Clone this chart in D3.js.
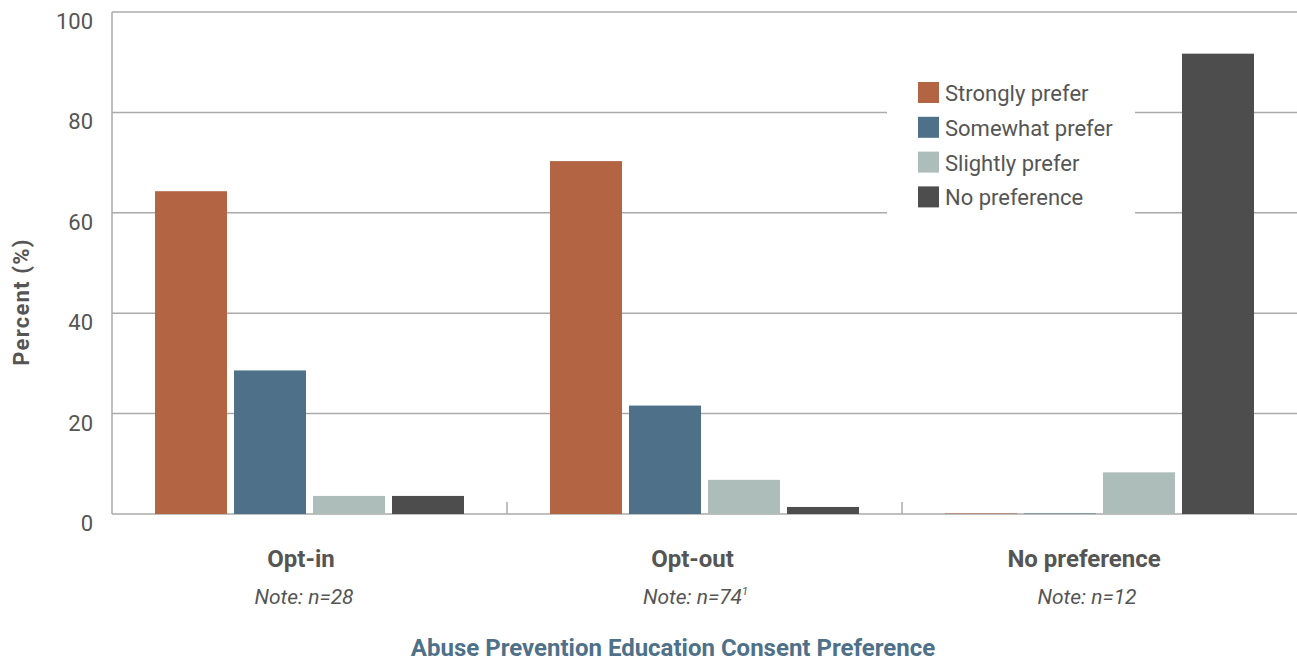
<!DOCTYPE html>
<html lang="en">
<head>
  <meta charset="utf-8">
  <title>Abuse Prevention Education Consent Preference</title>
  <script src="https://cdn.jsdelivr.net/npm/d3@7"></script>
  <style>
    body { margin: 0; background: #fff; }
    svg text { font-family: "Roboto", "Liberation Sans", sans-serif; fill: #555; }
  </style>
</head>
<body>
<script>
  const categories = ["Opt-in", "Opt-out", "No preference"];
  const notes = ["Note: n=28", "Note: n=74", "Note: n=12"];
  const noteSup = ["", "1", ""];
  const seriesNames = ["Strongly prefer", "Somewhat prefer", "Slightly prefer", "No preference"];
  const colors = ["#b36543", "#4e7189", "#adbdb9", "#4d4d4d"];
  // values per series, in category order
  const strongly = [64.3, 70.3, 0];
  const somewhat = [28.6, 21.6, 0];
  const slightly = [3.6, 6.8, 8.3];
  const noPref = [3.6, 1.4, 91.7];
  const yTicks = [0, 20, 40, 60, 80, 100];

  const series = [strongly, somewhat, slightly, noPref];

  const W = 1297, H = 664;
  const mLeft = 112, mRight = 1297, mTop = 12, mBottom = 514;

  const svg = d3.select("body").append("svg")
    .attr("width", W).attr("height", H);

  const x0 = d3.scaleBand().domain(categories).range([mLeft, mRight]);
  const x1 = d3.scaleBand().domain(seriesNames)
    .range([43, x0.bandwidth() - 43]).paddingInner(7 / 79);
  const y = d3.scaleLinear().domain([0, 100]).range([mBottom, mTop]);
  // the labels under the groups sit a little left of the group centres
  const xLabel = d3.scalePoint().domain(categories).range([301, 1084]);

  // grid lines
  svg.append("g").selectAll("line")
    .data(yTicks)
    .enter().append("line")
    .attr("x1", mLeft).attr("x2", mRight)
    .attr("y1", d => y(d)).attr("y2", d => y(d))
    .attr("stroke", "#aaa").attr("stroke-width", 1.5);

  // left axis line
  svg.append("line")
    .attr("x1", mLeft).attr("x2", mLeft)
    .attr("y1", mTop).attr("y2", mBottom)
    .attr("stroke", "#aaa").attr("stroke-width", 1.5);

  // category separators
  svg.append("g").selectAll("line")
    .data(categories.slice(1))
    .enter().append("line")
    .attr("x1", d => x0(d)).attr("x2", d => x0(d))
    .attr("y1", mBottom - 12).attr("y2", mBottom)
    .attr("stroke", "#aaa").attr("stroke-width", 1.5);

  // y tick labels (drawn slightly below their grid lines, as in the original)
  svg.append("g").selectAll("text")
    .data(yTicks)
    .enter().append("text")
    .attr("x", 93).attr("y", d => y(d) + 9)
    .attr("dy", "0.36em")
    .attr("text-anchor", "end")
    .style("font-size", "22px")
    .text(d => d);

  svg.append("text")
    .attr("transform", "translate(29,302) rotate(-90)")
    .attr("text-anchor", "middle")
    .style("font-size", "22px").style("font-weight", "bold")
    .style("letter-spacing", "1.2px")
    .text("Percent (%)");

  // bars
  const groups = svg.append("g").selectAll("g")
    .data(categories)
    .enter().append("g")
    .attr("transform", d => "translate(" + x0(d) + ",0)");

  groups.selectAll("rect")
    .data((c, ci) => seriesNames.map((s, si) => ({ s: s, v: series[si][ci], c: colors[si] })))
    .enter().append("rect")
    .attr("x", d => x1(d.s))
    .attr("width", x1.bandwidth())
    .attr("y", d => Math.min(y(d.v), mBottom - 1))
    .attr("height", d => Math.max(mBottom - y(d.v), 1))
    .attr("fill", d => d.c)
    .attr("opacity", d => d.v === 0 ? 0.5 : 1);

  // category labels
  svg.append("g").selectAll("text")
    .data(categories)
    .enter().append("text")
    .attr("x", d => xLabel(d))
    .attr("y", 567)
    .attr("text-anchor", "middle")
    .style("font-size", "24px").style("font-weight", "bold")
    .text(d => d);

  const noteText = svg.append("g").selectAll("text")
    .data(categories)
    .enter().append("text")
    .attr("x", d => xLabel(d) + 3)
    .attr("y", 604)
    .attr("text-anchor", "middle")
    .style("font-size", "21px").style("font-style", "italic");
  noteText.append("tspan").text((d, i) => notes[i]);
  noteText.append("tspan")
    .attr("dy", -9)
    .style("font-size", "11px")
    .text((d, i) => noteSup[i]);

  // x title
  svg.append("text")
    .attr("x", 673).attr("y", 656)
    .attr("text-anchor", "middle")
    .style("font-size", "24px").style("font-weight", "bold")
    .style("fill", "#4e7189")
    .text("Abuse Prevention Education Consent Preference");

  // legend
  const legend = svg.append("g");
  legend.append("rect")
    .attr("x", 887).attr("y", 68).attr("width", 248).attr("height", 150)
    .attr("fill", "#fff");
  const items = legend.selectAll("g.item")
    .data(seriesNames)
    .enter().append("g")
    .attr("class", "item")
    .attr("transform", (d, i) => "translate(918," + (82 + i * 34.8) + ")");
  items.append("rect")
    .attr("width", 21).attr("height", 21)
    .attr("fill", (d, i) => colors[i]);
  items.append("text")
    .attr("x", 27).attr("y", 19)
    .style("font-size", "22px")
    .text(d => d);
</script>
</body>
</html>
